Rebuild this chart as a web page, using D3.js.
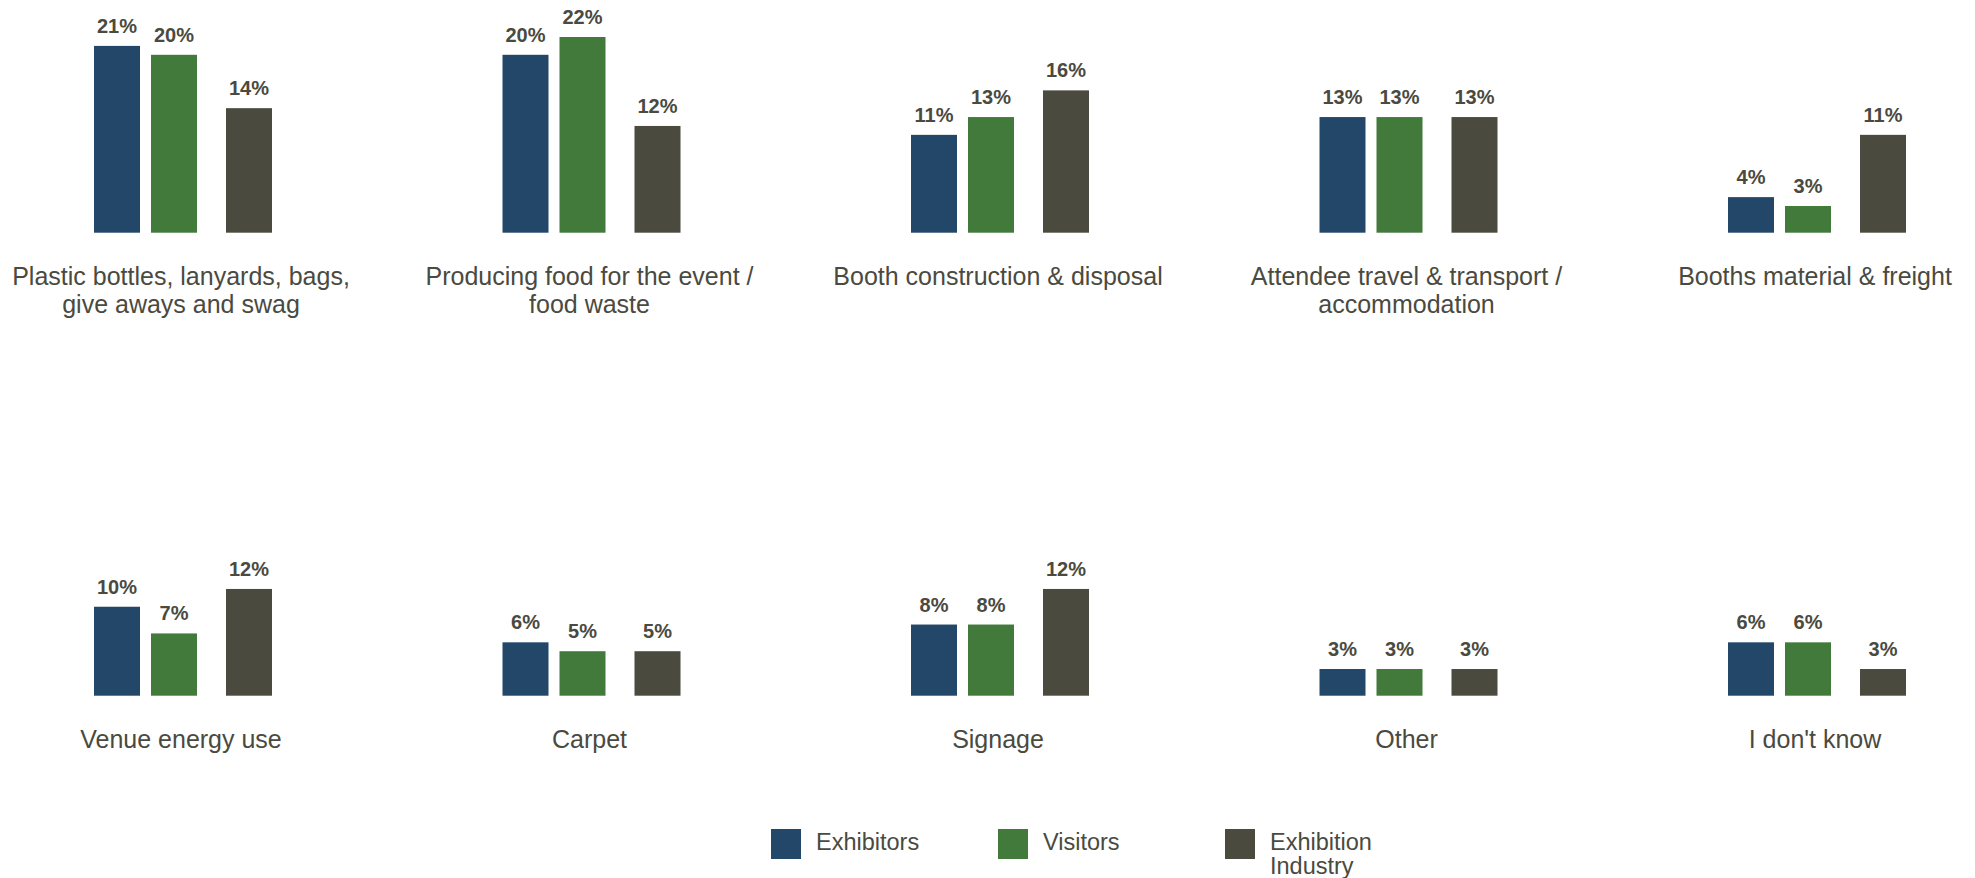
<!DOCTYPE html>
<html>
<head>
<meta charset="utf-8">
<script src="https://cdn.jsdelivr.net/npm/d3@7"></script>
<style>
  html, body { margin: 0; padding: 0; background: #ffffff; }
  svg { display: block; }
  text { font-family: "Liberation Sans", Arial, Helvetica, sans-serif; }
</style>
</head>
<body>
<svg id="chart" width="1975" height="878"></svg>
<script>
// Sources of waste / emissions by respondent group (percent)
const categories = [
  "Plastic bottles, lanyards, bags,\ngive aways and swag",
  "Producing food for the event /\nfood waste",
  "Booth construction & disposal",
  "Attendee travel & transport /\naccommodation",
  "Booths material & freight",
  "Venue energy use",
  "Carpet",
  "Signage",
  "Other",
  "I don't know"
];
const seriesNames = ["Exhibitors", "Visitors", "Exhibition\nIndustry"];
const exhibitors = [21, 20, 11, 13, 4, 10, 6, 8, 3, 6];
const visitors   = [20, 22, 13, 13, 3, 7, 5, 8, 3, 6];
const industry   = [14, 12, 16, 13, 11, 12, 5, 12, 3, 3];
const seriesValues = [exhibitors, visitors, industry];
const colors = ["#234769", "#427a3b", "#4b4a3e"];
const textColor = "#4a4a40";

const svg = d3.select("#chart");
const perRow = 5;

// panel centres across a row, and bar baselines for each row
const xPanel = d3.scalePoint().domain(d3.range(perRow)).range([183, 1817]);
const rowBase = d3.scaleOrdinal().domain([0, 1]).range([232.7, 695.7]);
// bar height per percent
const yLen = d3.scaleLinear().domain([0, 21]).range([0, 186.8]);
// left edge of each series' bar relative to the panel centre
const xSeries = d3.scaleOrdinal().domain(d3.range(3)).range([-89, -32, 43]);
const barW = 46;

const rows = categories.map((c, i) => ({
  name: c,
  index: i,
  row: Math.floor(i / perRow),
  col: i % perRow,
  values: seriesValues.map(s => s[i])
}));

const panels = svg.selectAll("g.panel")
  .data(rows)
  .join("g")
  .attr("class", "panel")
  .attr("transform", d => `translate(${xPanel(d.col)},${rowBase(d.row)})`);

panels.selectAll("rect")
  .data(d => d.values.map((v, s) => ({ v, s })))
  .join("rect")
  .attr("x", d => xSeries(d.s))
  .attr("y", d => -yLen(d.v))
  .attr("width", barW)
  .attr("height", d => yLen(d.v))
  .attr("fill", d => colors[d.s]);

panels.selectAll("text.val")
  .data(d => d.values.map((v, s) => ({ v, s })))
  .join("text")
  .attr("class", "val")
  .attr("x", d => xSeries(d.s) + barW / 2)
  .attr("y", d => -yLen(d.v) - 13)
  .attr("text-anchor", "middle")
  .attr("font-size", 20)
  .attr("font-weight", "bold")
  .attr("fill", textColor)
  .text(d => d.v + "%");

const catLabel = panels.append("text")
  .attr("class", "cat")
  .attr("x", -2)
  .attr("y", 52.5)
  .attr("text-anchor", "middle")
  .attr("font-size", 25)
  .attr("fill", textColor);

catLabel.selectAll("tspan")
  .data(d => d.name.split("\n"))
  .join("tspan")
  .attr("x", -2)
  .attr("dy", (d, i) => i === 0 ? 0 : 28)
  .text(d => d);

// legend
const legendX = d3.scalePoint().domain(d3.range(3)).range([771, 1225]);
const legend = svg.selectAll("g.legend")
  .data(seriesNames)
  .join("g")
  .attr("class", "legend")
  .attr("transform", (d, i) => `translate(${legendX(i)},829)`);

legend.append("rect")
  .attr("width", 30)
  .attr("height", 30)
  .attr("fill", (d, i) => colors[i]);

legend.append("text")
  .attr("x", 45)
  .attr("y", 21)
  .attr("font-size", 23.5)
  .attr("fill", textColor)
  .selectAll("tspan")
  .data(d => d.split("\n"))
  .join("tspan")
  .attr("x", 45)
  .attr("dy", (d, i) => i === 0 ? 0 : 24.3)
  .text(d => d);
</script>
</body>
</html>
